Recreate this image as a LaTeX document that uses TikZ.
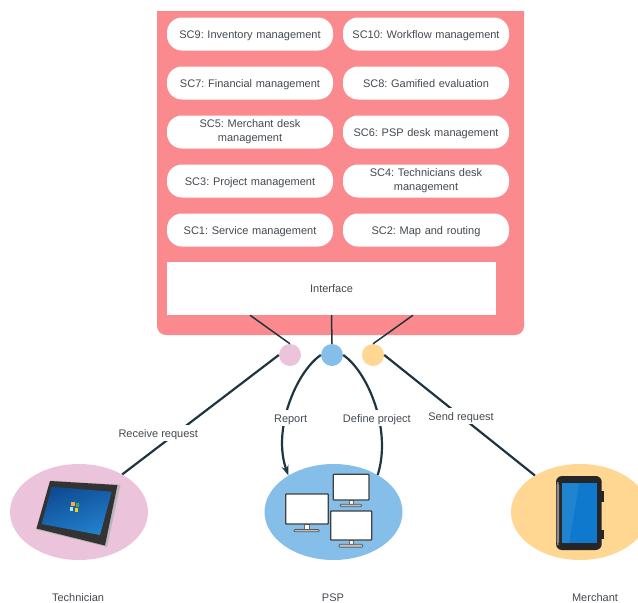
\documentclass[tikz,border=0pt]{standalone}
\usepackage{fontspec}
\setmainfont{Liberation Sans}
\usetikzlibrary{shapes.geometric,arrows.meta,calc}
\definecolor{panelred}{HTML}{FB8A8E}
\definecolor{linedark}{HTML}{1F3540}
\definecolor{txt}{HTML}{444A50}
\definecolor{pinkc}{HTML}{EBC3DB}
\definecolor{bluec}{HTML}{85BEE8}
\definecolor{orangec}{HTML}{FFD692}
\definecolor{scrA}{HTML}{0E4C94}
\definecolor{scrB}{HTML}{2280CC}
\definecolor{phoneScr}{HTML}{0F7ACD}
\tikzset{
 lbl/.style={font=\fontsize{11}{14}\selectfont,text=txt,align=center},
 oneline/.style={text height=10pt,text depth=2pt},
 pillbase/.style={lbl,rectangle,rounded corners=15pt,fill=white,minimum width=166pt,minimum height=33pt,text width=150pt,inner sep=0pt},
 pill/.style={pillbase,oneline},
 pilltwo/.style={pillbase},
 iface/.style={lbl,oneline,rectangle,fill=white,minimum width=329pt,minimum height=53pt,inner sep=0pt},
 port/.style={circle,minimum size=22pt,inner sep=0pt},
 actor/.style={ellipse,minimum width=138pt,minimum height=96pt,inner sep=0pt},
 thin link/.style={draw=linedark,line width=1.5pt},
 link/.style={draw=linedark,line width=2.2pt},
 edgelbl/.style={lbl,oneline,fill=white,inner xsep=1.5pt,inner ysep=2pt},
 caption/.style={lbl,oneline},
 mon/.style={draw=black!75,line width=1.3pt,fill=white,rounded corners=.7pt},
 monstand/.style={draw=black!60,line width=.7pt,fill=white},
 monbase/.style={draw=black!65,line width=.7pt,fill=black!25,rounded corners=1pt}
}
\begin{document}
\frenchspacing
\begin{tikzpicture}[x=1pt,y=-1pt]
\useasboundingbox (0,0) rectangle (638,603);
\clip (0,0) rectangle (638,603);
% panel
\fill[panelred,rounded corners=9pt] (157,-10) -- (157,335) -- (524,335) -- (524,-10) -- cycle;
\fill[white] (150,-12) rectangle (530,11);
\node[pill] (sc9) at (250,34) {SC9: Inventory management};
\node[pill] (sc10) at (426,34) {SC10: Workflow management};
\node[pill] (sc7) at (250,83) {SC7: Financial management};
\node[pill] (sc8) at (426,83) {SC8: Gamified evaluation};
\node[pilltwo] (sc5) at (250,132) {SC5: Merchant desk\\management};
\node[pill] (sc6) at (426,132) {SC6: PSP desk management};
\node[pill] (sc3) at (250,181) {SC3: Project management};
\node[pilltwo] (sc4) at (426,181) {SC4: Technicians desk\\management};
\node[pill] (sc1) at (250,230) {SC1: Service management};
\node[pill] (sc2) at (426,230) {SC2: Map and routing};
\node[iface] (iface) at (331.5,288.5) {Interface};
% ports and actors
\node[port,fill=pinkc] (p1) at (290,355) {};
\node[port,fill=bluec] (p2) at (332,355) {};
\node[port,fill=orangec] (p3) at (373,355) {};
\node[actor,fill=pinkc] (tech) at (79,512) {};
\node[actor,fill=bluec] (psp) at (333.5,512) {};
\node[actor,fill=orangec] (merch) at (580,512) {};
% interface links
\coordinate (i1) at ($(iface.south)+(-81.5,0)$);
\coordinate (i2) at ($(iface.south)+(0,0)$);
\coordinate (i3) at ($(iface.south)+(81.5,0)$);
\draw[thin link] (i1) -- (p1.north);
\draw[thin link] (i2) -- (p2.north);
\draw[thin link] (i3) -- (p3.north);
% actor links
\draw[link] (p1.west) -- (tech.41) node[edgelbl,pos=.77,yshift=13.5pt] {Receive request};
\draw[link] (p3.east) -- (merch.141) node[edgelbl,pos=.51] {Send request};
\draw[link,-{Stealth[length=10pt,width=7pt]}] (p2.180) .. controls (296,372) and (272,430) .. (psp.141) node[edgelbl,pos=.6,xshift=5pt] {Report};
\draw[link] (p2.0) .. controls (368,372) and (392,430) .. (psp.40) node[edgelbl,pos=.6,xshift=-2pt] {Define project};
% tablet
\fill[black!28] (50,480.5) -- (120.5,485) -- (107,547) -- (36,529.5) -- cycle;
\fill[black!80] (50,481) -- (117.5,485) -- (105,545.5) -- (36.5,528.5) -- cycle;
\shade[left color=scrA,right color=scrB,shading angle=20] (51.7,486.7) -- (111.7,491.7) -- (100,535) -- (41.7,524) -- cycle;
\fill[orange!70!white] (71,502) rectangle (74.5,505.5);
\fill[green!50!black!70] (75.5,503) rectangle (79,506.5);
\fill[cyan!30] (69.5,507) rectangle (73,510.5);
\fill[yellow!70!orange] (74.5,508) rectangle (78,511.5);
% monitors
\draw[monstand] (304.3,524) rectangle (309.3,529.5);
\draw[monbase] (294,529.5) rectangle (319.3,531.8);
\draw[mon] (285.7,494) rectangle (328.3,524);
\draw[monstand] (349,500) rectangle (353.3,504.3);
\draw[monbase] (340,504.3) rectangle (361.7,506.7);
\draw[mon] (333.3,474.3) rectangle (369,500);
\draw[monstand] (349,540) rectangle (353.3,544.3);
\draw[monbase] (339,544.3) rectangle (362.7,547.3);
\draw[mon] (330.7,511) rectangle (371.7,540);
% phone
\fill[black!85] (601,491) rectangle (603.5,502);
\fill[black!85] (601,530) rectangle (603.5,539);
\fill[black!85,rounded corners=6pt] (556,476) rectangle (601.7,550);
\fill[black!45,rounded corners=3pt] (556.5,482) rectangle (559,545);
\fill[phoneScr] (561.7,483.3) rectangle (596.7,543.3);
\fill[white,opacity=.08] (561.7,483.3) -- (579,483.3) -- (569,543.3) -- (561.7,543.3) -- cycle;
% captions
\node[caption] (c1) at (78,597) {Technician};
\node[caption] (c2) at (333,597) {PSP};
\node[caption] (c3) at (595,597) {Merchant};
\end{tikzpicture}
\end{document}
